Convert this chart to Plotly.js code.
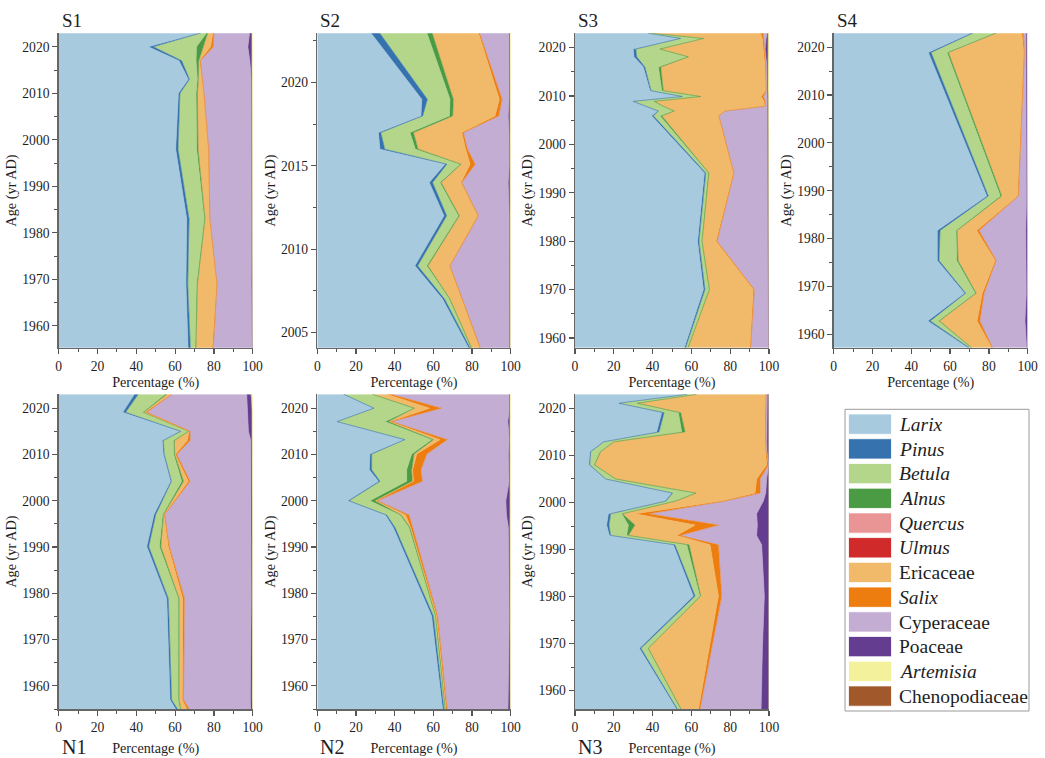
<!DOCTYPE html>
<html>
<head>
<meta charset="utf-8">
<script src="https://cdn.plot.ly/plotly-3.0.1.min.js"></script>
<style>html, body { margin: 0; padding: 0; background: #fff; }</style>
</head>
<body>
<div id="chart" style="width:1045px;height:758px;"></div>
<script>
var taxa = ['Larix', 'Pinus', 'Betula', 'Alnus', 'Quercus', 'Ulmus', 'Ericaceae', 'Salix',
  'Cyperaceae', 'Poaceae', 'Artemisia', 'Chenopodiaceae'];
var italicTaxa = [true, true, true, true, true, true, false, true, false, false, true, false];
var colors = ['#a7cadf', '#3572ae', '#b3d68a', '#4b9b45', '#e99595', '#d02a2a',
  '#f1ba6a', '#ee7d0f', '#c3add3', '#653d90', '#f3f19b', '#a1592b'];

// S1
var ageS1 = [2023, 2020, 2017, 2013, 2010, 1998, 1983, 1969, 1955];
var larixS1 = [72.8, 46.2, 62.0, 66.8, 61.7, 60.3, 66.0, 65.6, 66.7];
var pinusS1 = [0.6, 2.6, 1.4, 0.6, 0.8, 1.2, 1.2, 0.9, 1.2];
var betulaS1 = [2.9, 22.2, 7.4, 4.1, 8.3, 9.6, 7.9, 4.6, 2.5];
var alnusS1 = [0.5, 3.5, 1.4, 0.5, 0.7, 0.7, 0.3, 0.4, 0.3];
var ericaceaeS1 = [2.6, 3.8, 0.3, 2.0, 3.2, 5.3, 2.3, 9.9, 8.4];
var salixS1 = [0.6, 1.4, 0.5, 0.2, 0.2, 0.2, 0.2, 0.2, 0.5];
var cyperaceaeS1 = [18.4, 17.8, 25.5, 25.1, 24.5, 22.2, 21.7, 17.7, 20.0];
var poaceaeS1 = [1.0, 2.0, 1.2, 0.5, 0.4, 0.4, 0.3, 0.5, 0.3];
var artemisiaS1 = [0.6, 0.5, 0.3, 0.2, 0.2, 0.1, 0.1, 0.2, 0.1];

// S2
var ageS2 = [2023, 2019, 2018, 2017, 2016, 2015.1, 2014, 2012, 2009, 2007, 2004];
var larixS2 = [27.6, 54.0, 53.6, 31.6, 32.4, 66.0, 57.9, 65.5, 50.5, 64.8, 78.5];
var pinusS2 = [4.5, 2.9, 0.9, 1.2, 2.5, 1.0, 1.7, 1.4, 1.4, 1.0, 0.8];
var betulaS2 = [24.5, 11.7, 13.8, 15.1, 15.8, 6.8, 3.8, 6.0, 4.7, 2.5, 0.4];
var alnusS2 = [2.7, 1.7, 1.7, 1.8, 1.4, 0.5, 0.6, 0.5, 0.6, 0.3, 0.3];
var ericaceaeS2 = [24.0, 23.8, 21.9, 25.0, 24.6, 4.7, 10.3, 9.5, 11.1, 6.2, 4.1];
var salixS2 = [0.5, 1.4, 1.9, 0.8, 0.9, 2.6, 0.4, 0.4, 0.3, 0.3, 0.4];
var cyperaceaeS2 = [15.4, 3.7, 4.9, 23.7, 21.7, 17.7, 24.0, 16.0, 30.7, 24.1, 14.8];
var poaceaeS2 = [0.2, 0.3, 0.8, 0.3, 0.2, 0.2, 0.8, 0.2, 0.2, 0.3, 0.3];
var artemisiaS2 = [0.6, 0.5, 0.5, 0.5, 0.5, 0.5, 0.5, 0.5, 0.5, 0.5, 0.4];

// S3
var ageS3 = [2023, 2021.9, 2019.7, 2018.1, 2016.0, 2011.1, 2009.9, 2008.9, 2007.9, 2006.9, 2005.9, 1994.1, 1980, 1970, 1958];
var larixS3 = [37.1, 54.1, 30.0, 30.4, 35.2, 38.7, 55.0, 29.6, 36.0, 42.6, 39.5, 66.7, 63.2, 66.2, 56.4];
var pinusS3 = [0.5, 0.3, 1.3, 1.4, 0.8, 0.5, 0.3, 0.4, 0.5, 0.4, 0.9, 0.7, 0.7, 0.8, 0.6];
var betulaS3 = [0.7, 11.6, 12.0, 26.1, 7.0, 5.5, 9.1, 10.4, 8.5, 7.7, 3.4, 1.3, 1.4, 2.1, 1.1];
var alnusS3 = [0.3, 0.3, 0.5, 0.5, 1.2, 0.8, 0.4, 0.5, 0.4, 0.5, 0.9, 0.3, 0.2, 0.2, 0.2];
var ericaceaeS3 = [57.0, 30.2, 53.2, 39.2, 53.8, 52.8, 31.1, 56.5, 52.4, 25.8, 29.2, 12.6, 7.2, 22.6, 31.9];
var salixS3 = [1.4, 0.8, 0.6, 0.4, 0.4, 0.3, 1.2, 0.6, 0.4, 0.4, 0.3, 0.3, 0.5, 0.5, 0.3];
var cyperaceaeS3 = [2.2, 1.2, 0.4, 0.4, 0.5, 0.4, 2.1, 1.3, 1.2, 21.9, 25.3, 17.6, 26.3, 7.1, 9.0];
var poaceaeS3 = [0.2, 0.7, 1.3, 1.0, 0.4, 0.3, 0.3, 0.3, 0.3, 0.4, 0.3, 0.3, 0.3, 0.3, 0.3];
var artemisiaS3 = [0.6, 0.8, 0.7, 0.6, 0.7, 0.7, 0.5, 0.4, 0.3, 0.3, 0.2, 0.2, 0.2, 0.2, 0.2];

// S4
var ageS4 = [2023, 2018.9, 1988.9, 1981.7, 1975.4, 1968.6, 1962.8, 1957.2];
var larixS4 = [71.1, 48.8, 78.9, 53.4, 53.4, 67.4, 48.5, 69.1];
var pinusS4 = [0.9, 1.4, 0.8, 1.4, 0.9, 0.6, 1.3, 0.7];
var betulaS4 = [11.5, 8.2, 6.2, 8.3, 9.1, 4.9, 4.2, 1.0];
var alnusS4 = [0.5, 0.7, 0.7, 0.5, 0.7, 0.5, 0.5, 0.3];
var ericaceaeS4 = [12.9, 38.9, 8.2, 10.1, 19.1, 3.2, 19.4, 10.3];
var salixS4 = [0.9, 0.3, 0.4, 1.2, 0.5, 0.9, 1.4, 0.4];
var cyperaceaeS4 = [1.2, 0.5, 4.3, 24.1, 15.3, 21.8, 23.3, 17.7];
var poaceaeS4 = [0.5, 0.7, 0.3, 0.8, 0.8, 0.5, 1.1, 0.3];
var artemisiaS4 = [0.5, 0.5, 0.2, 0.2, 0.2, 0.2, 0.3, 0.2];

// N1
var ageN1 = [2023, 2019.1, 2015.0, 2013.0, 2010.0, 2004.2, 1997.0, 1990.1, 1978.9, 1957.0, 1955];
var larixN1 = [39.0, 33.0, 62.5, 53.4, 54.0, 57.7, 49.1, 45.4, 55.7, 57.4, 60.3];
var pinusN1 = [2.0, 1.5, 0.4, 0.5, 0.4, 0.4, 0.9, 1.0, 0.8, 0.8, 0.9];
var betulaN1 = [13.8, 8.8, 3.9, 5.2, 4.9, 5.3, 3.6, 5.5, 5.2, 3.5, 1.3];
var alnusN1 = [0.9, 0.5, 0.2, 0.5, 0.5, 0.9, 0.4, 0.7, 0.3, 0.3, 0.4];
var ericaceaeN1 = [2.0, 0.7, 0.2, 6.7, 0.3, 2.5, 0.3, 3.9, 1.9, 1.7, 3.1];
var salixN1 = [0.5, 0.9, 0.5, 1.4, 0.7, 0.9, 0.3, 0.5, 0.9, 0.6, 1.2];
var cyperaceaeN1 = [38.7, 51.9, 30.1, 31.3, 38.4, 31.5, 44.6, 42.2, 34.5, 34.5, 31.8];
var poaceaeN1 = [2.1, 2.2, 1.7, 0.6, 0.4, 0.4, 0.4, 0.5, 0.4, 0.8, 0.7];
var artemisiaN1 = [1.0, 0.5, 0.5, 0.4, 0.4, 0.4, 0.4, 0.3, 0.3, 0.4, 0.3];

// N2
var ageN2 = [2023, 2020, 2017.1, 2013.2, 2010.1, 2006.7, 2004.2, 2000.0, 1996.9, 1994.2, 1975.1, 1955];
var larixN2 = [13.4, 29.0, 10.0, 45.0, 27.2, 26.9, 31.6, 15.7, 35.2, 39.3, 59.1, 64.8];
var pinusN2 = [0.4, 0.3, 0.3, 0.3, 0.9, 1.2, 0.8, 0.7, 0.7, 0.9, 0.9, 0.7];
var betulaN2 = [14.3, 20.4, 24.7, 13.8, 20.7, 18.1, 13.8, 10.8, 6.9, 7.2, 0.9, 0.5];
var alnusN2 = [0.5, 0.5, 1.7, 0.9, 1.2, 2.6, 2.9, 2.6, 0.5, 0.5, 0.3, 0.2];
var ericaceaeN2 = [7.4, 7.8, 0.9, 3.4, 1.4, 0.5, 0.6, 0.5, 2.4, 0.4, 0.5, 0.4];
var salixN2 = [2.0, 6.0, 0.8, 3.8, 5.2, 4.3, 4.6, 0.7, 1.7, 1.0, 0.5, 0.5];
var cyperaceaeN2 = [61.3, 35.4, 60.1, 32.2, 42.2, 45.4, 44.9, 66.5, 50.4, 49.5, 37.1, 31.5];
var poaceaeN2 = [0.1, 0.1, 1.0, 0.1, 0.7, 0.5, 0.3, 2.1, 1.8, 0.8, 0.3, 1.0];
var artemisiaN2 = [0.6, 0.5, 0.5, 0.5, 0.5, 0.5, 0.5, 0.4, 0.4, 0.4, 0.4, 0.4];

// N3
var ageN3 = [2023, 2021.1, 2019.1, 2015.0, 2012.9, 2010.8, 2008.0, 2005.0, 2002.0, 2000.3, 1997.6, 1995.2, 1993.0, 1991.0, 1980.1, 1969.0, 1956];
var larixN3 = [57.6, 22.3, 44.7, 42.1, 14.6, 7.7, 7.2, 15.5, 49.8, 46.4, 17.2, 16.3, 17.7, 50.7, 61.0, 33.2, 52.4];
var pinusN3 = [0.3, 0.4, 1.2, 1.2, 0.3, 0.4, 0.4, 0.3, 0.5, 0.5, 1.2, 1.2, 0.7, 0.8, 0.9, 0.8, 0.5];
var betulaN3 = [4.5, 9.1, 7.4, 11.7, 4.9, 4.8, 2.2, 4.8, 11.6, 4.6, 5.7, 10.0, 8.2, 6.1, 2.5, 3.5, 1.6];
var alnusN3 = [0.3, 0.3, 1.2, 1.7, 0.3, 0.3, 0.3, 0.4, 0.5, 0.4, 0.3, 3.4, 0.9, 1.2, 0.4, 0.3, 0.3];
var ericaceaeN3 = [35.6, 66.2, 43.3, 41.2, 77.8, 85.0, 88.7, 72.6, 30.4, 23.7, 6.5, 31.0, 24.9, 10.8, 9.1, 31.4, 8.8];
var salixN3 = [0.2, 0.3, 0.5, 0.4, 0.4, 0.4, 0.9, 1.8, 2.6, 1.4, 6.9, 12.0, 1.7, 4.3, 1.7, 1.2, 0.8];
var cyperaceaeN3 = [0.6, 0.4, 0.6, 0.6, 0.6, 0.4, 0.1, 3.4, 2.9, 20.1, 55.8, 20.1, 39.5, 22.3, 22.0, 26.2, 31.5];
var poaceaeN3 = [0.8, 0.9, 1.0, 1.0, 1.0, 0.9, 0.1, 1.0, 1.5, 2.8, 6.3, 5.9, 6.3, 3.7, 2.3, 3.3, 4.0];
var artemisiaN3 = [0.1, 0.1, 0.1, 0.1, 0.1, 0.1, 0.1, 0.2, 0.2, 0.1, 0.1, 0.1, 0.1, 0.1, 0.1, 0.1, 0.1];

// values in taxa order, null = not drawn (Quercus, Ulmus, Chenopodiaceae)
var panels = [
  {name: 'S1', age: ageS1, vals: [larixS1, pinusS1, betulaS1, alnusS1, null, null, ericaceaeS1, salixS1, cyperaceaeS1, poaceaeS1, artemisiaS1, null]},
  {name: 'S2', age: ageS2, vals: [larixS2, pinusS2, betulaS2, alnusS2, null, null, ericaceaeS2, salixS2, cyperaceaeS2, poaceaeS2, artemisiaS2, null]},
  {name: 'S3', age: ageS3, vals: [larixS3, pinusS3, betulaS3, alnusS3, null, null, ericaceaeS3, salixS3, cyperaceaeS3, poaceaeS3, artemisiaS3, null]},
  {name: 'S4', age: ageS4, vals: [larixS4, pinusS4, betulaS4, alnusS4, null, null, ericaceaeS4, salixS4, cyperaceaeS4, poaceaeS4, artemisiaS4, null]},
  {name: 'N1', age: ageN1, vals: [larixN1, pinusN1, betulaN1, alnusN1, null, null, ericaceaeN1, salixN1, cyperaceaeN1, poaceaeN1, artemisiaN1, null]},
  {name: 'N2', age: ageN2, vals: [larixN2, pinusN2, betulaN2, alnusN2, null, null, ericaceaeN2, salixN2, cyperaceaeN2, poaceaeN2, artemisiaN2, null]},
  {name: 'N3', age: ageN3, vals: [larixN3, pinusN3, betulaN3, alnusN3, null, null, ericaceaeN3, salixN3, cyperaceaeN3, poaceaeN3, artemisiaN3, null]}
];

// layout in pixels
var W = 1045, H = 758;
var colPx = [[58.7, 252.7], [317.3, 510.7], [575, 769], [833.7, 1027.7]];
var rowPx = [[33.3, 347.7], [394.3, 709]];
var cell = [[0, 0], [1, 0], [2, 0], [3, 0], [0, 1], [1, 1], [2, 1]];
var yRanges = [[1955.3, 2022.9], [2004.08, 2022.96], [1958.0, 2022.96], [1957.2, 2022.9],
  [1955.0, 2023.0], [1955.0, 2023.0], [1956.1, 2023.0]];

function px(x) { return x / W; }
function py(y) { return 1 - y / H; }

var font = 'Liberation Serif, Times New Roman, serif';
var ink = '#1e1e1e';
var data = [];
var layout = {
  width: W, height: H,
  margin: {l: 0, r: 0, t: 0, b: 0},
  paper_bgcolor: '#fff', plot_bgcolor: '#fff',
  showlegend: false,
  font: {family: font, color: ink},
  annotations: [], shapes: []
};

for (var k = 0; k < panels.length; k++) {
  var p = panels[k];
  var sfx = k === 0 ? '' : String(k + 1);
  for (var j = 0; j < taxa.length; j++) {
    if (!p.vals[j]) continue;
    data.push({
      type: 'scatter', mode: 'lines',
      x: p.vals[j], y: p.age,
      stackgroup: p.name, orientation: 'h',
      fillcolor: colors[j],
      line: {color: colors[j], width: 0.6},
      xaxis: 'x' + sfx, yaxis: 'y' + sfx,
      name: taxa[j], hoverinfo: 'skip'
    });
  }
  var c = colPx[cell[k][0]], r = rowPx[cell[k][1]];
  var bottomRow = cell[k][1] === 1;
  layout['xaxis' + sfx] = {
    domain: [px(c[0]), px(c[1])], anchor: 'y' + sfx,
    range: [0, 100], dtick: 20, tick0: 0,
    ticks: 'outside', ticklen: 5, tickwidth: 1.2, tickcolor: '#555',
    minor: {ticks: 'outside', dtick: 10, ticklen: 3, tickwidth: 1, tickcolor: '#555'},
    showline: true, linecolor: '#666', linewidth: 1.5,
    showgrid: false, zeroline: false,
    tickfont: {family: font, size: 13.6, color: ink},
    title: {text: 'Percentage (%)', font: {family: font, size: 14.2, color: ink}, standoff: bottomRow ? 9 : 4}
  };
  var s2 = p.name === 'S2';
  layout['yaxis' + sfx] = {
    domain: [py(r[1]), py(r[0])], anchor: 'x' + sfx,
    range: yRanges[k], dtick: s2 ? 5 : 10, tick0: 1960,
    ticks: 'outside', ticklen: 5, tickwidth: 1.2, tickcolor: '#555',
    minor: {ticks: 'outside', dtick: s2 ? 2.5 : 5, ticklen: 3, tickwidth: 1, tickcolor: '#555'},
    showline: true, linecolor: '#666', linewidth: 1.5,
    showgrid: false, zeroline: false,
    tickfont: {family: font, size: 13.6, color: ink},
    title: {text: 'Age (yr AD)', font: {family: font, size: 14.3, color: ink}, standoff: 2}
  };
  // panel label: S above, N below
  layout.annotations.push({
    xref: 'paper', yref: 'paper',
    x: px(c[0] + 1), y: bottomRow ? py(746.5) : py(20),
    xanchor: 'left', yanchor: 'middle', showarrow: false,
    text: p.name, font: {family: font, size: bottomRow ? 20 : 19, color: ink}
  });
}

// legend box, built from taxa and colors
layout.shapes.push({
  type: 'rect', xref: 'paper', yref: 'paper',
  x0: px(845), x1: px(1029), y0: py(711), y1: py(409.3),
  line: {color: '#9a9a9a', width: 1}, fillcolor: 'rgba(0,0,0,0)'
});
for (var i = 0; i < taxa.length; i++) {
  var rowTop = 414 + i * 24.72;
  layout.shapes.push({
    type: 'rect', xref: 'paper', yref: 'paper',
    x0: px(848.5), x1: px(891.5), y0: py(rowTop + 20.3), y1: py(rowTop),
    line: {color: '#fff', width: 0.8}, fillcolor: colors[i]
  });
  layout.annotations.push({
    xref: 'paper', yref: 'paper',
    x: px(896.5), y: py(rowTop + 10.3),
    xanchor: 'left', yanchor: 'middle', showarrow: false,
    text: italicTaxa[i] ? '<i>' + taxa[i] + '</i>' : taxa[i],
    font: {family: font, size: 19.5, color: ink}
  });
}

Plotly.newPlot('chart', data, layout, {staticPlot: true});
</script>
</body>
</html>
